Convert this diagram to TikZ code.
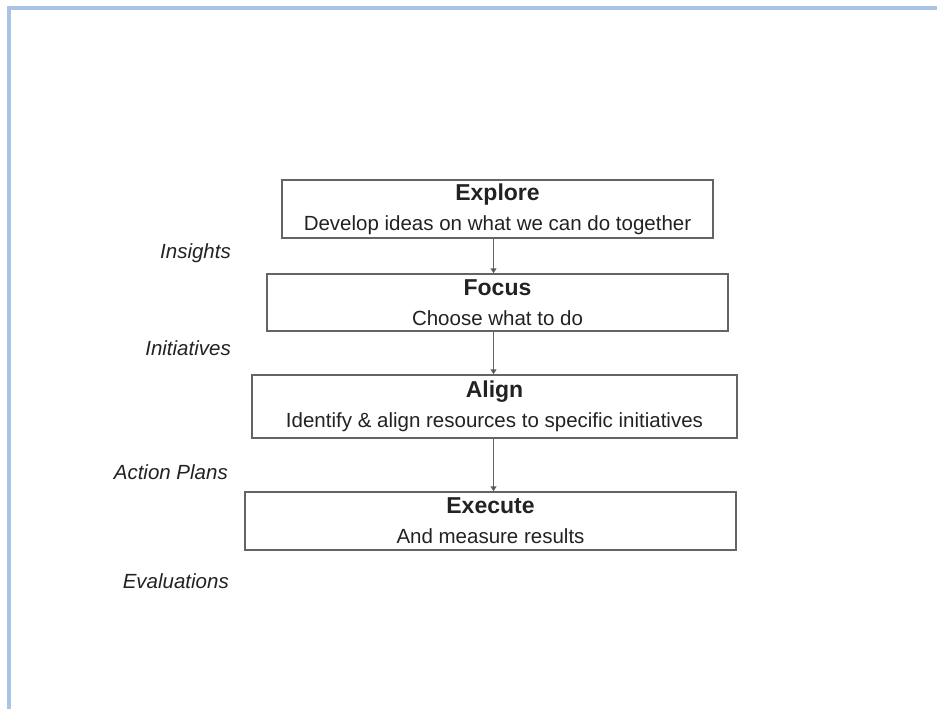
\documentclass[tikz,border=0pt]{standalone}
\usepackage{fontspec}
\setmainfont{Liberation Sans}
\usetikzlibrary{arrows.meta, positioning}

\definecolor{framecol}{RGB}{168,196,228}
\definecolor{textcol}{RGB}{34,34,34}
\definecolor{linecol}{RGB}{100,100,100}

\newcommand{\steptitle}[1]{{\fontsize{23}{30}\selectfont\bfseries #1}}

\begin{document}
\begin{tikzpicture}[
	x=1pt, y=-1pt,
	nodes = {
		align = center,
		text = textcol
	},
	lines/.style={
		draw=linecol,
		line width=1.2pt,
		-{Triangle[length=5pt,width=6pt,fill=textcol]}
	},
	stage/.style={
		rectangle,
		draw=linecol,
		line width=1.4pt,
		inner sep=0pt,
		font=\fontsize{20.5}{30}\selectfont,
		text centered
	},
	outcome/.style={
		anchor=east,
		inner sep=0pt,
		font=\fontsize{20.5}{24}\selectfont\itshape
	}
]
	\useasboundingbox (0,0) rectangle (937,709);
	\draw[framecol, line width=4pt] (9,709) -- (9,8) -- (937,8);

	\node[stage, minimum width=431pt, minimum height=58pt] (explore) at (497.5,209) {
		\steptitle{Explore}\\
		Develop ideas on what we can do together
	};

	\node[stage, minimum width=461pt, minimum height=57pt] (focus) at (497.5,302.5) {
		\steptitle{Focus}\\
		Choose what to do
	};

	\node[stage, minimum width=485pt, minimum height=63pt] (align) at (494.5,406.5) {
		\steptitle{Align}\\
		Identify \& align resources to specific initiatives
	};

	\node[stage, minimum width=491pt, minimum height=58pt] (execute) at (490.5,521) {
		\steptitle{Execute}\\
		And measure results
	};
	%%
	\node[outcome] (insights) at (231,253) {Insights};
	\node[outcome] (initiatives) at (231,348) {Initiatives};
	\node[outcome] (actionplans) at (228,472) {Action Plans};
	\node[outcome] (evaluations) at (229,581) {Evaluations};

	\draw[lines] ([xshift=-4pt]explore.south) -- ([xshift=-4pt]explore.south |- focus.north);
	\draw[lines] ([xshift=-4pt]focus.south) -- ([xshift=-4pt]focus.south |- align.north);
	\draw[lines] ([xshift=-1pt]align.south) -- ([xshift=-1pt]align.south |- execute.north);
\end{tikzpicture}
\end{document}
